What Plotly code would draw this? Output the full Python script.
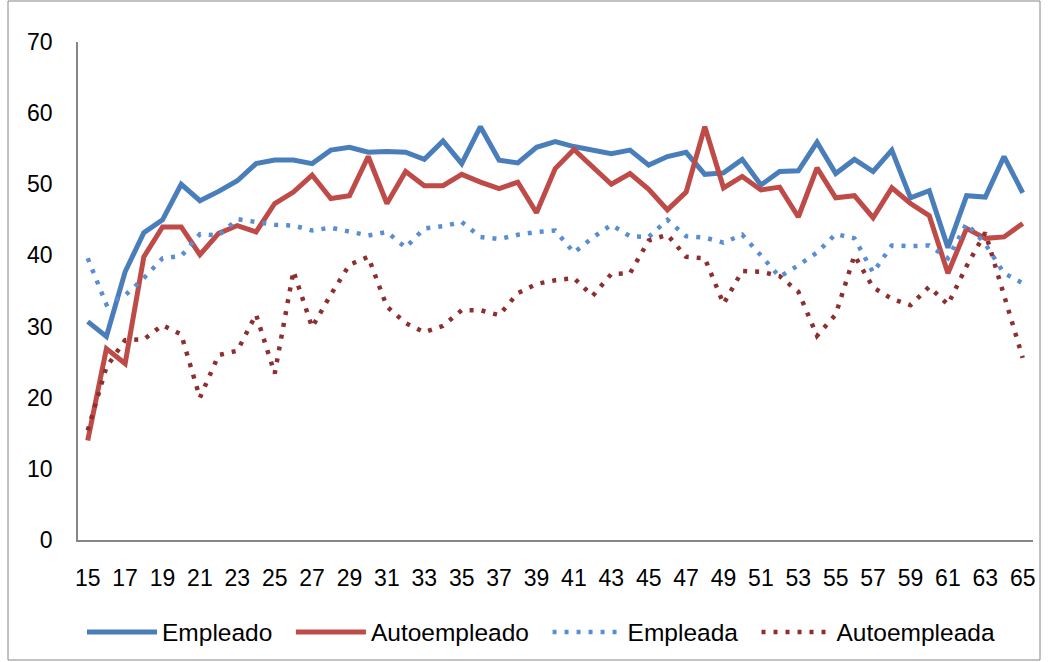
import plotly.graph_objects as go

ages = list(range(15, 66))

empleado = [30.7, 28.6, 37.7, 43.2, 45.0, 50.0, 47.7, 49.0, 50.5, 52.9,
            53.4, 53.4, 52.9, 54.8, 55.2, 54.5, 54.6, 54.5, 53.5, 56.1,
            52.9, 58.1, 53.4, 53.0, 55.2, 56.0, 55.3, 54.8, 54.3, 54.8,
            52.7, 53.9, 54.5, 51.4, 51.6, 53.5, 49.9, 51.8, 51.9, 55.9,
            51.5, 53.5, 51.8, 54.8, 48.1, 49.1, 41.1, 48.4, 48.2, 53.9,
            48.8]

autoempleado = [14.0, 26.9, 24.8, 39.8, 44.0, 44.0, 40.1, 43.1, 44.2, 43.3,
                47.3, 48.9, 51.3, 48.0, 48.4, 53.9, 47.3, 51.8, 49.8, 49.8,
                51.4, 50.3, 49.4, 50.3, 46.0, 52.2, 54.9, 52.4, 50.0, 51.5,
                49.3, 46.4, 48.9, 58.1, 49.5, 51.1, 49.2, 49.6, 45.4, 52.3,
                48.1, 48.4, 45.3, 49.5, 47.3, 45.6, 37.5, 43.8, 42.4, 42.6,
                44.5]

empleada = [39.6, 33.1, 34.4, 36.8, 39.6, 39.9, 43.0, 42.8, 45.1, 44.7,
            44.3, 44.2, 43.5, 43.9, 43.4, 42.8, 43.3, 41.1, 43.8, 44.1,
            44.7, 42.6, 42.3, 42.9, 43.3, 43.5, 40.4, 42.5, 44.3, 42.7,
            42.6, 45.0, 42.7, 42.5, 41.8, 42.9, 40.0, 37.0, 38.6, 40.4,
            43.0, 42.4, 37.6, 41.4, 41.3, 41.4, 39.6, 44.5, 41.6, 37.5,
            36.1]

autoempleada = [15.4, 24.3, 28.1, 28.2, 30.2, 28.9, 20.0, 26.0, 26.6, 31.7,
                23.4, 37.8, 29.9, 34.5, 38.7, 39.8, 32.8, 30.5, 29.2, 30.1,
                32.3, 32.3, 31.6, 34.7, 36.0, 36.5, 36.8, 34.3, 37.4, 37.5,
                42.1, 42.9, 39.8, 39.6, 33.2, 37.8, 37.7, 37.1, 34.9, 28.7,
                31.7, 40.0, 35.5, 33.9, 33.0, 35.6, 33.1, 38.5, 43.2, 34.5,
                25.6]

series_names = ["Empleado", "Autoempleado", "Empleada", "Autoempleada"]

x_ticks = list(range(15, 66, 2))
y_ticks = list(range(0, 71, 10))

FONT = "Liberation Sans, Arial, sans-serif"
FS = 23
LEG_FS = 24.5
PAD = "\u00a0\u00a0"

fig = go.Figure()
fig.add_trace(go.Scatter(x=ages, y=empleado, name=series_names[0] + PAD, mode="lines",
                         line=dict(color="#4A7EBB", width=5)))
fig.add_trace(go.Scatter(x=ages, y=autoempleado, name=series_names[1] + PAD, mode="lines",
                         line=dict(color="#BE4B48", width=5)))
fig.add_trace(go.Scatter(x=ages, y=empleada, name=series_names[2] + PAD, mode="lines",
                         line=dict(color="#5A8ED2", width=4.5, dash="4px,8px")))
fig.add_trace(go.Scatter(x=ages, y=autoempleada, name=series_names[3], mode="lines",
                         line=dict(color="#8E2F2F", width=4.5, dash="4px,8px")))

L, R, T, B = 78, 16, 42, 122
W, H = 1049, 662
pw, ph = W - L - R, H - T - B

def px_x(p):
    return (p - L) / pw

def px_y(p):
    return (H - B - p) / ph

fig.update_layout(
    width=W, height=H,
    margin=dict(l=L, r=R, t=T, b=B, autoexpand=False),
    paper_bgcolor="white", plot_bgcolor="white",
    font=dict(family=FONT, size=FS, color="#000000"),
    showlegend=True,
    legend=dict(orientation="h", x=px_x(541), xanchor="center",
                y=px_y(632), yanchor="middle",
                font=dict(family=FONT, size=LEG_FS, color="#000000"),
                itemwidth=70, bgcolor="rgba(0,0,0,0)", tracegroupgap=0),
    xaxis=dict(range=[14.48, 65.55], tickmode="array", tickvals=x_ticks,
               ticktext=[str(v) for v in x_ticks],
               showgrid=False, zeroline=False, showline=True,
               linecolor="#868686", linewidth=1.5, ticks="", ticklen=0,
               ticklabelstandoff=17, fixedrange=True),
    yaxis=dict(range=[0, 70], tickmode="array", tickvals=y_ticks,
               ticktext=[str(v) for v in y_ticks],
               showgrid=False, zeroline=False, showline=True,
               linecolor="#868686", linewidth=1.5, ticks="", ticklen=0,
               ticklabelstandoff=19, fixedrange=True),
    shapes=[dict(type="rect", xref="paper", yref="paper",
                 x0=px_x(8), x1=px_x(1040), y0=px_y(660), y1=px_y(1),
                 line=dict(color="#868686", width=1), fillcolor="rgba(0,0,0,0)",
                 layer="below")],
)

fig.write_html("out.html", config={"displayModeBar": False},
               post_script="document.body.style.margin='0px';document.body.style.overflow='hidden';")
